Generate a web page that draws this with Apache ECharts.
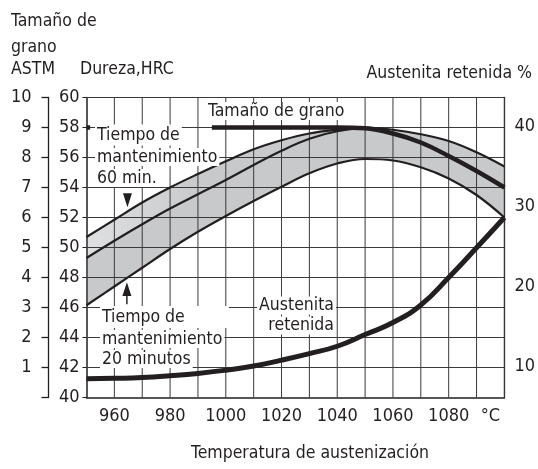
<!DOCTYPE html>
<html>
<head>
<meta charset="utf-8">
<script src="https://cdn.jsdelivr.net/npm/echarts@6/dist/echarts.min.js"></script>
<style>
html,body{margin:0;padding:0;background:#fff;}
#c{width:538px;height:469px;}
</style>
</head>
<body>
<div id="c"></div>
<script>
// ---- data ----
const temps      = [950, 960, 970, 980, 990, 1000, 1010, 1020, 1030, 1040, 1050, 1060, 1070, 1080, 1090, 1100];
const hrcTop     = [50.7, 51.85, 53.0, 54.0, 54.9, 55.75, 56.55, 57.15, 57.6, 57.85, 58.0, 57.85, 57.55, 57.1, 56.35, 55.4];
const hrcMid     = [49.3, 50.45, 51.55, 52.6, 53.55, 54.5, 55.5, 56.45, 57.25, 57.75, 57.95, 57.6, 57.0, 56.1, 55.1, 54.0];
const hrcBottom  = [46.15, 47.4, 48.65, 49.9, 51.05, 52.1, 53.1, 54.05, 54.95, 55.6, 55.9, 55.8, 55.35, 54.6, 53.5, 52.0];
const austenite  = [8.48, 8.53, 8.63, 8.85, 9.14, 9.55, 10.07, 10.8, 11.62, 12.54, 14.0, 15.5, 17.7, 21.14, 24.85, 28.64];
const grainT     = [950, 951.3, 973, 995, 1040, 1050, 1060, 1070, 1080, 1090, 1100];
const grainASTM  = [9, 9, null, 9, 9, 8.975, 8.8, 8.5, 8.05, 7.55, 7.0];
const xGridTicks     = [960, 970, 980, 990, 1000, 1010, 1020, 1030, 1040, 1050, 1060, 1070, 1080, 1090, 1100];
const hrcGridTicks   = [42, 44, 46, 48, 50, 52, 54, 56, 58, 60];
const xTickLabels    = [960, 980, 1000, 1020, 1040, 1060, 1080];
const astmTickLabels = [1, 2, 3, 4, 5, 6, 7, 8, 9, 10];
const austTickLabels = [10, 20, 30, 40];

const X_MIN = 950, X_MAX = 1100, HRC_MIN = 40, HRC_MAX = 60;
const FONT = "'DejaVu Sans Condensed', 'Liberation Sans Narrow', sans-serif";
const FS = 18;
const TFS = 17.5;
const INK = '#231f20';
const GRID = '#3a3a3a';

const pairs = (xs, ys) => xs.map((x, i) => [x, ys[i] === null ? '-' : ys[i]]);
const bandRows = (vals) => temps.map((t, i) => [vals[i], t]);
const lowerBand = hrcMid.map((v, i) => +(v - hrcBottom[i]).toFixed(3));
const upperBand = hrcTop.map((v, i) => +(v - hrcMid[i]).toFixed(3));
const gridSegments = []
  .concat(...xGridTicks.map(t => [[t, HRC_MIN], [t, HRC_MAX], [t, '-']]))
  .concat(...hrcGridTicks.map(h => [[X_MIN, h], [X_MAX, h], [X_MAX, '-']]));

const chart = echarts.init(document.getElementById('c'), null, {renderer: 'canvas'});

const txt = (text, x, y, opts) => ({
  type: 'text', z: 100, silent: true,
  style: Object.assign({text, x, y, font: TFS + 'px ' + FONT, fill: INK, verticalAlign: 'middle', align: 'left'}, opts || {})
});
const boxed = (text, x, y, align, pad) => txt(text, x, y, {align: align || 'left', backgroundColor: '#fff', padding: pad || [0, 2, 0, 2]});

const FILL = 'rgba(92,98,104,0.34)';

chart.setOption({
  animation: false,
  grid: {left: 86.5, right: 31.5, top: 97.5, bottom: 71.5, show: false},
  xAxis: {
    type: 'value', min: X_MIN, max: X_MAX, interval: 10,
    axisLine: {show: true, lineStyle: {color: INK, width: 1.5}},
    axisTick: {show: false},
    splitLine: {show: false},
    axisLabel: {
      margin: 10, color: INK, fontFamily: FONT, fontSize: FS,
      formatter: v => xTickLabels.includes(v) ? String(v) : (v === 1100 ? '{c|°C}' : ''),
      rich: {c: {fontFamily: FONT, fontSize: FS, color: INK, padding: [0, 28, 0, 0]}}
    }
  },
  yAxis: [
    { // Dureza HRC
      type: 'value', position: 'left', min: HRC_MIN, max: HRC_MAX, interval: 2,
      axisLine: {show: true, lineStyle: {color: INK, width: 1.5}},
      axisTick: {show: true, length: 4, lineStyle: {color: INK}},
      splitLine: {show: false},
      axisLabel: {margin: 7, color: INK, fontFamily: FONT, fontSize: FS}
    },
    { // Tamaño de grano ASTM
      type: 'value', position: 'left', offset: 38, min: 0, max: 10, interval: 1,
      axisLine: {show: true, lineStyle: {color: INK, width: 1.3}},
      axisTick: {show: true, length: 7, lineStyle: {color: INK, width: 1.3}},
      splitLine: {show: false},
      axisLabel: {margin: 17, color: INK, fontFamily: FONT, fontSize: FS,
        formatter: v => astmTickLabels.includes(v) ? String(v) : ''}
    },
    { // Austenita retenida %
      type: 'value', position: 'right', min: 6.13, max: 43.65,
      axisLine: {show: true, lineStyle: {color: INK, width: 1.3}}, axisTick: {show: false}, splitLine: {show: false},
      axisLabel: {margin: 10, color: INK, fontFamily: FONT, fontSize: FS, customValues: austTickLabels}
    }
  ],
  series: [
    {type: 'line', name: 'base', stack: 'band', data: bandRows(hrcBottom), encode: {x: 1, y: 0},
      symbol: 'none', smooth: 0.4, lineStyle: {opacity: 0}, silent: true, z: 1},
    {type: 'line', name: 'lower band', stack: 'band', data: bandRows(lowerBand), encode: {x: 1, y: 0},
      symbol: 'none', smooth: 0.4, lineStyle: {opacity: 0}, silent: true, z: 1,
      areaStyle: {opacity: 1, color: FILL}},
    {type: 'line', name: 'upper band', stack: 'band', data: bandRows(upperBand), encode: {x: 1, y: 0},
      symbol: 'none', smooth: 0.4, lineStyle: {opacity: 0}, silent: true, z: 1,
      areaStyle: {opacity: 1, color: new echarts.graphic.LinearGradient(0, 0, 1, 0, [
        {offset: 0, color: 'rgba(92,98,104,0.2)'}, {offset: 0.28, color: FILL}, {offset: 1, color: FILL}])}},
    {type: 'line', name: 'grid lines', data: gridSegments, symbol: 'none', smooth: false, connectNulls: false,
      silent: true, z: 4, lineStyle: {color: GRID, width: 1}},
    {type: 'line', name: 'top', data: pairs(temps, hrcTop), symbol: 'none', smooth: 0.4,
      lineStyle: {color: INK, width: 2.2}, z: 5,
      markPoint: {symbol: 'triangle', symbolSize: [9, 14], symbolRotate: 180, label: {show: false},
        itemStyle: {color: INK}, data: [{coord: [964.7, 53.15]}]}},
    {type: 'line', name: 'mid', data: pairs(temps, hrcMid), symbol: 'none', smooth: 0.4,
      lineStyle: {color: INK, width: 2.2}, z: 5},
    {type: 'line', name: 'bottom', data: pairs(temps, hrcBottom), symbol: 'none', smooth: 0.4,
      lineStyle: {color: INK, width: 2.2}, z: 5,
      markPoint: {symbol: 'path://M5,0 L10,15 L5.8,15 L5.8,24 L4.2,24 L4.2,15 L0,15 Z', symbolSize: [9, 22],
        label: {show: false}, itemStyle: {color: INK}, data: [{coord: [964.5, 46.95]}]}},
    {type: 'line', name: 'grano', yAxisIndex: 1, data: pairs(grainT, grainASTM), symbol: 'none', smooth: 0.4,
      connectNulls: false, lineStyle: {color: INK, width: 4.5, cap: 'butt'}, z: 6},
    {type: 'line', name: 'austenita', yAxisIndex: 2, data: pairs(temps, austenite), symbol: 'none', smooth: 0.5,
      lineStyle: {color: INK, width: 5}, z: 6}
  ],
  graphic: [
    txt('Tamaño de', 11, 21),
    txt('grano', 11, 47),
    txt('ASTM', 11, 69),
    txt('Dureza,HRC', 80, 69),
    txt('Austenita retenida %', 532, 73, {align: 'right'}),
    txt('Temperatura de austenización', 310, 453, {align: 'center'}),
    boxed('Tamaño de grano', 206, 111),
    boxed('Tiempo de', 95, 135, 'left', [2, 2, 1, 2]),
    boxed('mantenimiento', 95, 157),
    boxed('60 min.', 95, 178),
    boxed('Tiempo de', 100, 317, 'left', [3, 44, 1, 2]),
    boxed('mantenimiento', 100, 339),
    boxed('20 minutos', 100, 359),
    boxed('Austenita', 336, 305.5, 'right'),
    boxed('retenida', 336, 325.5, 'right')
  ]
});
</script>
</body>
</html>
